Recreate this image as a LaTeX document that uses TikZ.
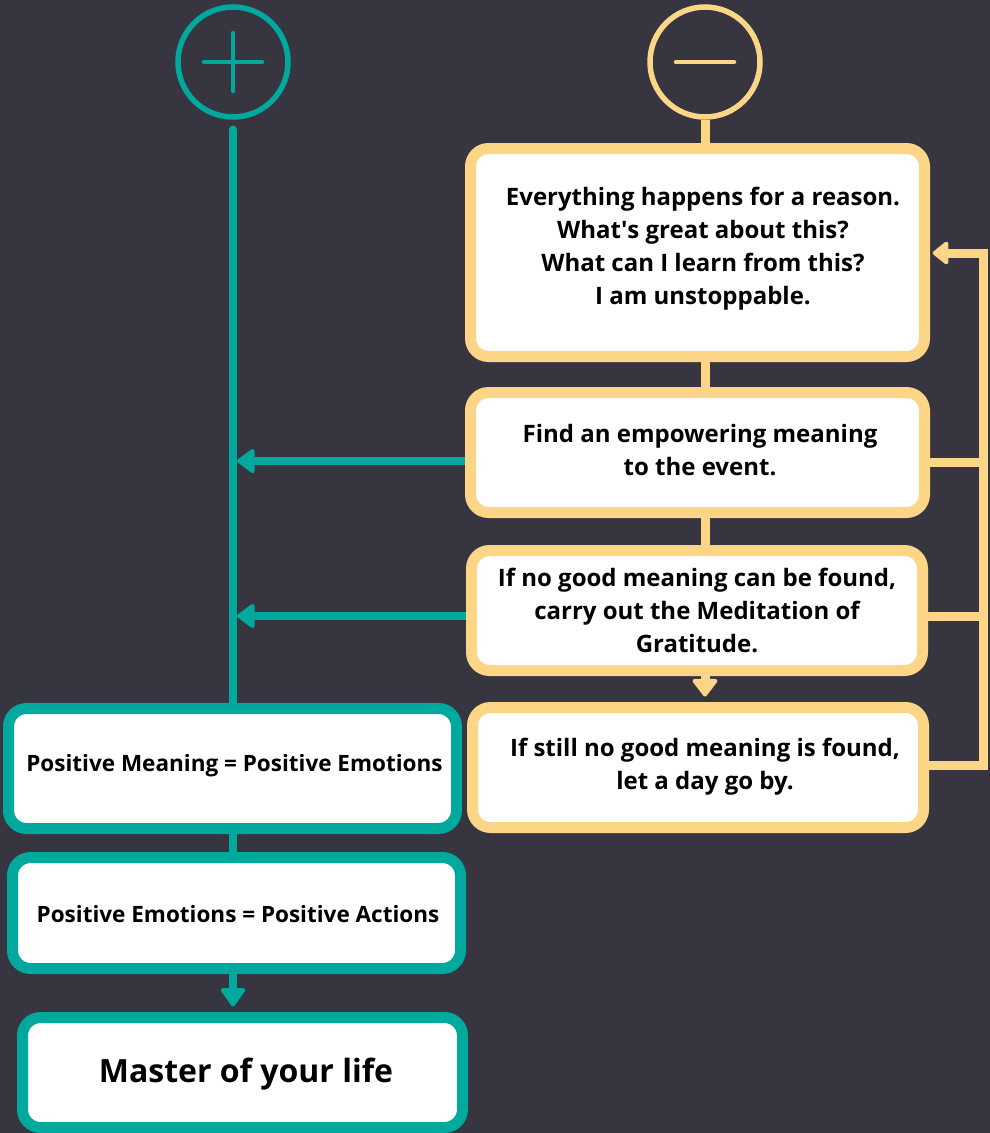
\documentclass[tikz,border=0pt]{standalone}
\usepackage{fontspec}
\setmainfont{Open Sans}
\usetikzlibrary{arrows.meta}
\definecolor{bgc}{HTML}{37353F}
\definecolor{tealc}{HTML}{00A99D}
\definecolor{yelc}{HTML}{FDD586}
\pgfdeclarelayer{back}
\pgfdeclarelayer{links}
\pgfsetlayers{back,links,main}
\begin{document}
\begin{tikzpicture}[x=1pt,y=-1pt,
  ybox/.style={draw=yelc, line width=11pt, fill=white, rounded corners=18pt, inner sep=0pt},
  tbox/.style={draw=tealc, line width=11pt, fill=white, rounded corners=18pt, inner sep=0pt},
  txt/.style={font=\bfseries\fontsize{24}{33}\selectfont, align=center, text=black, inner sep=0pt},
  ttxt/.style={font=\bfseries\fontsize{22.5}{28}\selectfont, align=center, text=black, inner sep=0pt},
  yline/.style={draw=yelc, line width=9pt},
  tline/.style={draw=tealc, line width=8.5pt},
  fbline/.style={draw=yelc, line width=9pt},
  tside/.style={-{Triangle[length=19pt,width=27pt,round,line width=4pt]}},
  tdown/.style={-{Triangle[length=20pt,width=27pt,round,line width=4pt]}},
  ydown/.style={-{Triangle[length=19pt,width=28pt,round,line width=4pt]}},
  yside/.style={-{Triangle[length=17pt,width=26pt,round,line width=4pt]}}
]
\begin{pgfonlayer}{back}
\fill[bgc] (0,0) rectangle (990,1133);
\end{pgfonlayer}
\useasboundingbox (0,0) rectangle (990,1133);

% circles
\node[draw=tealc, line width=5.5pt, circle, minimum size=110pt, inner sep=0pt] (plus) at (233,62) {};
\node[draw=yelc, line width=5.5pt, circle, minimum size=110pt, inner sep=0pt] (minus) at (705,62) {};
\draw[tealc, line width=4.5pt, line cap=round] ([xshift=-29pt]plus.center) -- ([xshift=29pt]plus.center);
\draw[tealc, line width=4.5pt, line cap=round] ([yshift=-29pt]plus.center) -- ([yshift=29pt]plus.center);
\draw[yelc, line width=4.5pt, line cap=round] ([xshift=-29pt]minus.center) -- ([xshift=29pt]minus.center);

% yellow boxes
\node[ybox, minimum width=454pt, minimum height=208pt] (y1) at (697.5,252.5) {};
\node[txt] (y1t) at (703,248.5) {Everything happens for a reason.\\What\textquotesingle s great about this?\\What can I learn from this?\\I am unstoppable.};
\node[ybox, minimum width=454pt, minimum height=120pt] (y2) at (697.5,452.5) {};
\node[txt] (y2t) at (700,450) {Find an empowering meaning\\to the event.};
\node[ybox, minimum width=451pt, minimum height=120pt] (y3) at (697,610.5) {};
\node[txt] (y3t) at (697,610) {If no good meaning can be found,\\carry out the Meditation of\\Gratitude.};
\node[ybox, minimum width=451pt, minimum height=120pt] (y4) at (698,767.5) {};
\node[txt] (y4t) at (705,767) {If still no good meaning is found,\\let a day go by.};

% teal boxes
\node[tbox, minimum width=448pt, minimum height=120pt] (t1) at (232.5,768.5) {};
\node[ttxt] (t1t) at (234.5,766) {Positive Meaning = Positive Emotions};
\node[tbox, minimum width=448pt, minimum height=111pt] (t2) at (236.5,913) {};
\node[ttxt] (t2t) at (238,914) {Positive Emotions = Positive Actions};
\node[tbox, minimum width=440pt, minimum height=110pt] (t3) at (242.5,1072.5) {};
\node[font=\bfseries\fontsize{32}{38}\selectfont, text=black, inner sep=0pt] (t3t) at (246,1074) {Master of your life};

% rail coordinates
\coordinate (ycol) at (705,0);
\coordinate (tcol) at (233,0);
\coordinate (ta1) at (237,461);
\coordinate (ta2) at (237,616);
\coordinate (fb1) at (983,253);
\coordinate (fbtip) at (932.7,253);
\coordinate (fb2) at (983,462);
\coordinate (fb3) at (983,616);
\coordinate (fb4) at (983,765);

\begin{pgfonlayer}{links}
\draw[tline, line cap=round] ([yshift=-10pt]plus.south) -- (plus.south |- t1.north);
\draw[yline] (minus.south) -- (minus.south |- y1.north);
\draw[yline] (ycol |- y1.south) -- (ycol |- y2.north);
\draw[yline] (ycol |- y2.south) -- (ycol |- y3.north);
\draw[yline, ydown] (ycol |- y3.south) -- ([yshift=5.5pt]ycol |- y4.north);
\draw[tline] (tcol |- t1.south) -- (tcol |- t2.north);
\draw[tline, tdown] (tcol |- t2.south) -- ([yshift=5.5pt]tcol |- t3.north);
\draw[tline, tside] (y2.west |- ta1) -- (ta1);
\draw[tline, tside] (y3.west |- ta2) -- (ta2);
\draw[fbline, yside] (y4.east |- fb4) -- (fb4) -- (fb1) -- (fbtip);
\draw[fbline] (y2.east |- fb2) -- (fb2);
\draw[fbline] (y3.east |- fb3) -- (fb3);
\end{pgfonlayer}
\end{tikzpicture}
\end{document}
